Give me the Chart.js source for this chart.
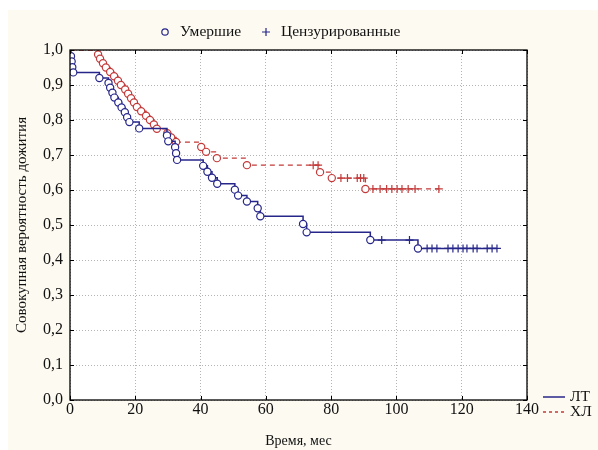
<!DOCTYPE html>
<html>
<head>
<meta charset="utf-8">
<script src="https://cdn.jsdelivr.net/npm/chart.js@4/dist/chart.umd.min.js"></script>
<style>
  html, body { margin: 0; padding: 0; background: #fff; }
</style>
</head>
<body>
<canvas id="km" width="598" height="450"></canvas>
<script>
// ЛТ: время (мес), совокупная вероятность дожития, тип (n - старт, d - умер, c - цензурирован)
const ltTime = [0, 0.3, 0.5, 0.7, 1.0, 9, 11.8, 12.3, 13, 13.6, 14.8, 15.8, 16.8, 17.5, 18.2, 21.2,
  29.7, 30.1, 32.2, 32.5, 32.8, 40.8, 42.1, 43.5, 45.1, 50.5, 51.5, 54.2, 57.5, 58.3, 71.4, 72.5,
  92.0, 95.5, 104.0, 106.6, 109.4, 110.9, 112.4, 115.8, 117.3, 118.9, 120.4, 121.6, 123.5, 124.7,
  127.8, 129.3, 130.8];
const ltSurv = [1.0, 0.982, 0.967, 0.951, 0.936, 0.920, 0.906, 0.892, 0.878, 0.864, 0.850, 0.836, 0.822, 0.808, 0.794, 0.776,
  0.756, 0.739, 0.722, 0.705, 0.686, 0.669, 0.652, 0.635, 0.618, 0.601, 0.584, 0.567, 0.548, 0.525, 0.503, 0.479,
  0.457, 0.457, 0.457, 0.433, 0.433, 0.433, 0.433, 0.433, 0.433, 0.433, 0.433, 0.433, 0.433, 0.433,
  0.433, 0.433, 0.433];
const ltEvent = ['n', 'd', 'd', 'd', 'd', 'd', 'd', 'd', 'd', 'd', 'd', 'd', 'd', 'd', 'd', 'd',
  'd', 'd', 'd', 'd', 'd', 'd', 'd', 'd', 'd', 'd', 'd', 'd', 'd', 'd', 'd', 'd',
  'd', 'c', 'c', 'd', 'c', 'c', 'c', 'c', 'c', 'c', 'c', 'c', 'c', 'c',
  'c', 'c', 'c'];

// ХЛ
const xlTime = [0, 8.6, 9.2, 10.1, 11.0, 12.3, 13.5, 14.7, 15.6, 16.9, 17.8, 18.7, 19.6, 20.5, 21.8, 23.3, 24.5, 25.7, 26.6,
  29.8, 31.0, 32.5, 40.2, 41.7, 45.0, 54.2, 74.5, 76.0, 76.6, 80.2, 83, 85, 88, 89, 90, 90.5,
  92.8, 95, 97, 98.6, 100.2, 101.7, 103.6, 105.7, 113];
const xlSurv = [1.0, 0.987, 0.975, 0.962, 0.950, 0.937, 0.925, 0.912, 0.900, 0.887, 0.875, 0.862, 0.850, 0.837, 0.825, 0.812, 0.800, 0.787, 0.775,
  0.762, 0.750, 0.737, 0.723, 0.709, 0.691, 0.671, 0.671, 0.671, 0.651, 0.634, 0.634, 0.634, 0.634, 0.634, 0.634, 0.603,
  0.603, 0.603, 0.603, 0.603, 0.603, 0.603, 0.603, 0.603, 0.603];
const xlEvent = ['n', 'd', 'd', 'd', 'd', 'd', 'd', 'd', 'd', 'd', 'd', 'd', 'd', 'd', 'd', 'd', 'd', 'd', 'd',
  'd', 'd', 'd', 'd', 'd', 'd', 'd', 'c', 'c', 'd', 'd', 'c', 'c', 'c', 'c', 'c', 'd',
  'c', 'c', 'c', 'c', 'c', 'c', 'c', 'c', 'c'];

const xTicks = [0, 20, 40, 60, 80, 100, 120, 140];
const yTicks = [0, 0.1, 0.2, 0.3, 0.4, 0.5, 0.6, 0.7, 0.8, 0.9, 1.0];

const seriesNames = ['ЛТ', 'ХЛ'];
const markerNames = ['Умершие', 'Цензурированные'];

const BLUE = '#26268a';
const RED = '#c43a3a';
const tickFont = { family: 'Liberation Serif', size: 16 };

function toPoints(t, s) {
  return t.map((x, i) => ({ x: x, y: s[i] }));
}
function styles(ev) {
  return ev.map(e => e === 'c' ? 'cross' : 'circle');
}
function radii(ev) {
  return ev.map(e => e === 'n' ? 0 : (e === 'c' ? 4 : 3.6));
}

// фон, рамка и внутренние засечки
const framePlugin = {
  id: 'frame',
  beforeDraw(chart) {
    const { ctx, chartArea: a } = chart;
    ctx.save();
    ctx.fillStyle = '#fdfaf1';
    ctx.fillRect(8, 10, chart.width - 8, chart.height - 10);
    ctx.fillStyle = '#ffffff';
    ctx.fillRect(a.left, a.top, a.right - a.left, a.bottom - a.top);
    ctx.restore();
  },
  afterDraw(chart) {
    const { ctx, chartArea: a, scales } = chart;
    ctx.save();
    ctx.strokeStyle = '#000';
    ctx.lineWidth = 1.3;
    ctx.strokeRect(a.left, a.top, a.right - a.left, a.bottom - a.top);
    ctx.lineWidth = 1;
    ctx.beginPath();
    xTicks.forEach(v => {
      const x = Math.round(scales.x.getPixelForValue(v)) + 0.5;
      ctx.moveTo(x, a.bottom); ctx.lineTo(x, a.bottom - 4);
      ctx.moveTo(x, a.top); ctx.lineTo(x, a.top + 4);
    });
    yTicks.forEach(v => {
      const y = Math.round(scales.y.getPixelForValue(v)) + 0.5;
      ctx.moveTo(a.left, y); ctx.lineTo(a.left + 4, y);
      ctx.moveTo(a.right, y); ctx.lineTo(a.right - 4, y);
    });
    ctx.stroke();

    // верхняя легенда: маркеры
    ctx.fillStyle = '#111';
    ctx.font = '15.5px "Liberation Serif"';
    ctx.textBaseline = 'middle';
    ctx.strokeStyle = BLUE;
    ctx.lineWidth = 1.2;
    ctx.beginPath();
    ctx.arc(165, 32, 3.2, 0, Math.PI * 2);
    ctx.stroke();
    ctx.fillText(markerNames[0], 180, 32);
    ctx.beginPath();
    ctx.moveTo(262, 32); ctx.lineTo(270, 32);
    ctx.moveTo(266, 28); ctx.lineTo(266, 36);
    ctx.stroke();
    ctx.fillText(markerNames[1], 281, 32);

    // нижняя правая легенда: группы
    ctx.lineWidth = 1.5;
    ctx.strokeStyle = BLUE;
    ctx.beginPath();
    ctx.moveTo(543, 397); ctx.lineTo(565, 397);
    ctx.stroke();
    ctx.strokeStyle = RED;
    ctx.setLineDash([3, 3]);
    ctx.beginPath();
    ctx.moveTo(543, 412); ctx.lineTo(565, 412);
    ctx.stroke();
    ctx.setLineDash([]);
    ctx.fillText(seriesNames[0], 570, 397);
    ctx.fillText(seriesNames[1], 570, 412);
    ctx.restore();
  }
};

new Chart(document.getElementById('km'), {
  type: 'line',
  data: {
    datasets: [{
      label: seriesNames[0],
      data: toPoints(ltTime, ltSurv),
      stepped: true,
      borderColor: BLUE,
      borderWidth: 1.5,
      pointStyle: styles(ltEvent),
      pointRadius: radii(ltEvent),
      pointBorderColor: BLUE,
      pointBackgroundColor: '#ffffff',
      pointBorderWidth: 1.2
    }, {
      label: seriesNames[1],
      data: toPoints(xlTime, xlSurv),
      stepped: true,
      borderColor: RED,
      borderWidth: 1.3,
      borderDash: [5, 4],
      pointStyle: styles(xlEvent),
      pointRadius: radii(xlEvent),
      pointBorderColor: RED,
      pointBackgroundColor: '#ffffff',
      pointBorderWidth: 1.2
    }]
  },
  options: {
    responsive: false,
    animation: false,
    layout: { padding: { left: 0, top: 50, right: 71, bottom: 0 } },
    plugins: { legend: { display: false }, tooltip: { enabled: false } },
    scales: {
      x: {
        type: 'linear',
        min: 0,
        max: 140,
        afterFit(scale) { scale.height = 50; },
        afterBuildTicks(scale) { scale.ticks = xTicks.map(v => ({ value: v })); },
        ticks: { font: tickFont, color: '#111', padding: 0, maxRotation: 0 },
        grid: { color: '#b4b4b4', tickLength: 0 },
        border: { display: false, dash: [1, 2] },
        title: {
          display: true,
          text: 'Время, мес',
          font: { family: 'Liberation Serif', size: 14 },
          color: '#111',
          padding: { top: 0, bottom: 0 }
        }
      },
      y: {
        min: 0,
        max: 1,
        afterFit(scale) { scale.width = 70; },
        afterBuildTicks(scale) { scale.ticks = yTicks.map(v => ({ value: v })); },
        ticks: {
          font: tickFont,
          color: '#111',
          padding: 7,
          callback: v => v.toFixed(1).replace('.', ',')
        },
        grid: { color: '#b4b4b4', tickLength: 0 },
        border: { display: false, dash: [1, 2] },
        title: {
          display: true,
          text: 'Совокупная вероятность дожития',
          font: { family: 'Liberation Serif', size: 15 },
          color: '#111',
          padding: { top: 13, bottom: 0 }
        }
      }
    }
  },
  plugins: [framePlugin]
});
</script>
</body>
</html>
